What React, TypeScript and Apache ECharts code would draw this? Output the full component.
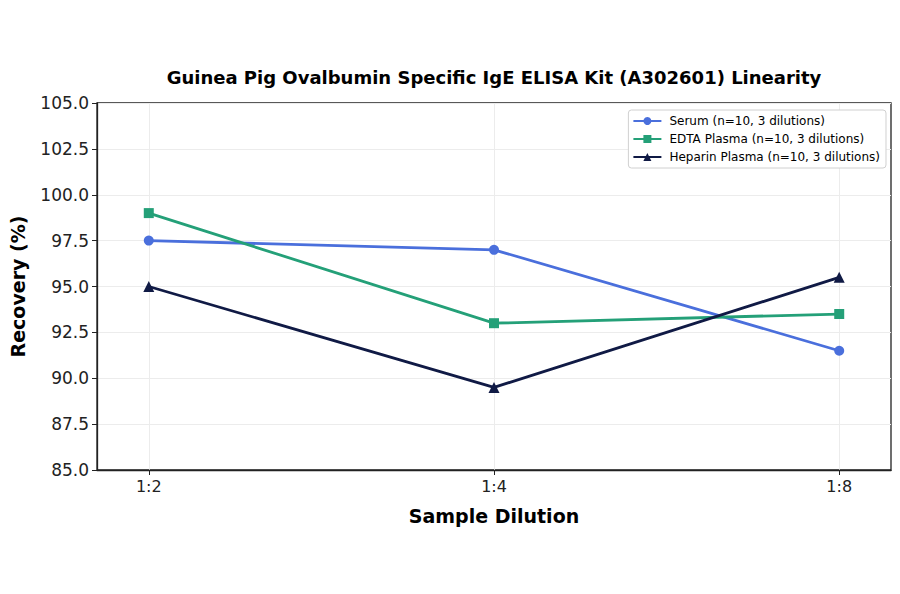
import React, { useEffect, useRef } from 'react';
import * as echarts from 'echarts';

const dilutions = ['1:2', '1:4', '1:8'];
const serum = [97.5, 97.0, 91.5];
const edta = [99.0, 93.0, 93.5];
const heparin = [95.0, 89.5, 95.5];

const FONT = '"DejaVu Sans", sans-serif';

const toPoints = (vals: number[]) => vals.map((v, i) => [i, v]);

const App: React.FC = () => {
  const chartRef = useRef<HTMLDivElement>(null);

  useEffect(() => {
    if (!chartRef.current) return;
    const chart = echarts.init(chartRef.current, null, { renderer: 'svg' });

    const option = {
      animation: false,
      backgroundColor: '#fff',
      textStyle: { fontFamily: FONT },
      graphic: [
        {
          type: 'text',
          x: 494,
          y: 77,
          style: {
            text: 'Guinea Pig Ovalbumin Specific IgE ELISA Kit (A302601) Linearity',
            font: `bold 18px ${FONT}`,
            fill: '#000',
            textAlign: 'center',
            textVerticalAlign: 'middle',
          },
        },
      ],
      grid: {
        left: 97,
        right: 9,
        top: 103,
        bottom: 124,
        show: true,
        borderColor: '#222',
        borderWidth: 1.3,
      },
      legend: {
        orient: 'vertical',
        right: 14,
        top: 110,
        backgroundColor: '#fff',
        borderColor: '#d0d0d0',
        borderWidth: 1,
        borderRadius: 3,
        padding: [5, 6, 5, 4],
        itemGap: 6,
        itemWidth: 28,
        itemHeight: 10,
        textStyle: { fontFamily: FONT, fontSize: 12, color: '#000', padding: [0, 0, 0, 3] },
        data: [
          'Serum (n=10, 3 dilutions)',
          'EDTA Plasma (n=10, 3 dilutions)',
          'Heparin Plasma (n=10, 3 dilutions)',
        ],
      },
      xAxis: {
        type: 'value',
        min: -0.15,
        max: 2.15,
        name: 'Sample Dilution',
        nameLocation: 'middle',
        nameGap: 36,
        nameTextStyle: { fontFamily: FONT, fontSize: 19, fontWeight: 'bold', color: '#000' },
        axisLine: { show: true, onZero: false, lineStyle: { color: '#222', width: 1.3 } },
        axisTick: { show: true, customValues: [0, 1, 2], length: 5, lineStyle: { color: '#222' } },
        axisLabel: {
          customValues: [0, 1, 2],
          formatter: (v: number) => dilutions[Math.round(v)] ?? '',
          fontFamily: FONT,
          fontSize: 16,
          color: '#222',
          margin: 8,
        },
        splitLine: { show: true, lineStyle: { color: '#ececec', width: 1 } },
      },
      yAxis: {
        type: 'value',
        min: 85,
        max: 105,
        interval: 2.5,
        name: 'Recovery (%)',
        nameLocation: 'middle',
        nameGap: 70,
        nameTextStyle: { fontFamily: FONT, fontSize: 19, fontWeight: 'bold', color: '#000' },
        axisLine: { show: true, onZero: false, lineStyle: { color: '#222', width: 1.3 } },
        axisTick: { show: true, length: 5, lineStyle: { color: '#222' } },
        axisLabel: {
          formatter: (v: number) => v.toFixed(1),
          fontFamily: FONT,
          fontSize: 17,
          color: '#222',
          margin: 8,
        },
        splitLine: { show: true, lineStyle: { color: '#ececec', width: 1 } },
      },
      series: [
        {
          name: 'Serum (n=10, 3 dilutions)',
          type: 'line',
          data: toPoints(serum),
          symbol: 'circle',
          symbolSize: 10,
          lineStyle: { width: 2.8, color: '#4a6fdc' },
          itemStyle: { color: '#4a6fdc' },
          z: 3,
        },
        {
          name: 'EDTA Plasma (n=10, 3 dilutions)',
          type: 'line',
          data: toPoints(edta),
          symbol: 'rect',
          symbolSize: 10,
          lineStyle: { width: 2.8, color: '#24a078' },
          itemStyle: { color: '#24a078' },
          z: 4,
        },
        {
          name: 'Heparin Plasma (n=10, 3 dilutions)',
          type: 'line',
          data: toPoints(heparin),
          symbol: 'triangle',
          symbolSize: 11,
          lineStyle: { width: 2.8, color: '#101a45' },
          itemStyle: { color: '#101a45' },
          z: 5,
        },
      ],
    };

    chart.setOption(option);
    return () => {
      chart.dispose();
    };
  }, []);

  return (
    <div
      ref={chartRef}
      style={{ position: 'fixed', left: 0, top: 0, width: 900, height: 594 }}
    />
  );
};

export default App;
